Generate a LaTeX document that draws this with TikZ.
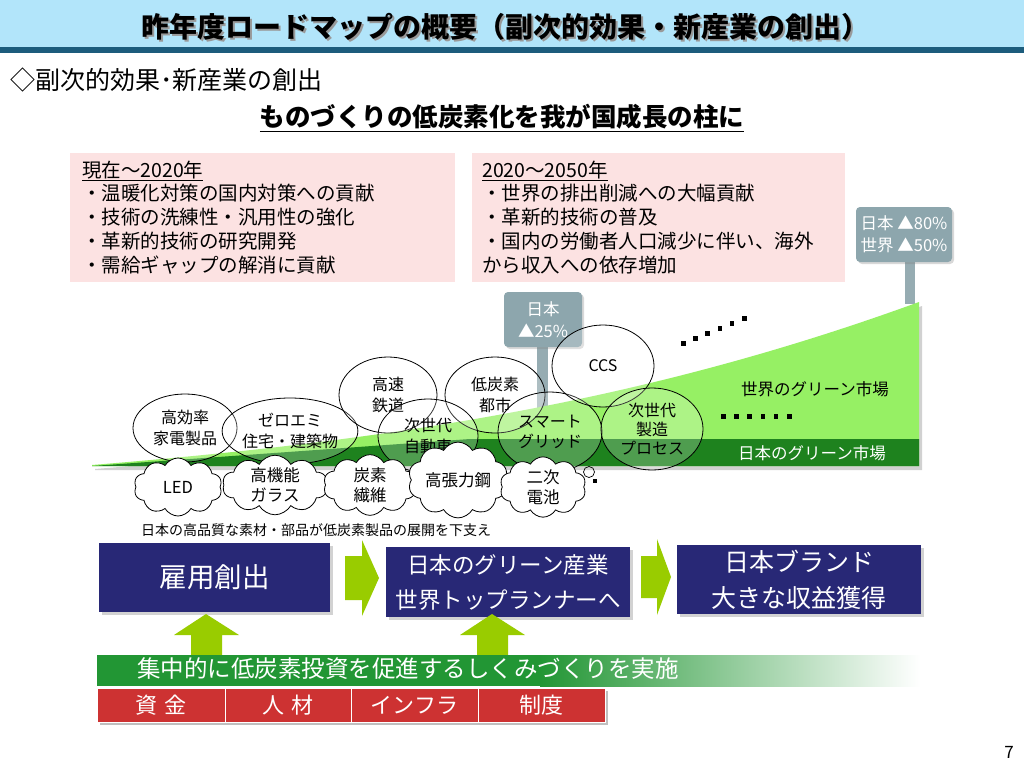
\documentclass[tikz,border=0pt]{standalone}
\usepackage{fontspec}
\setmainfont{Noto Sans CJK JP}
\usetikzlibrary{shapes.symbols,shapes.geometric,shadows}
\definecolor{titlebg}{RGB}{178,229,250}
\definecolor{titleline}{RGB}{28,92,124}
\definecolor{pinkbg}{RGB}{252,226,226}
\definecolor{signc}{RGB}{141,166,173}
\definecolor{postc}{RGB}{150,172,178}
\definecolor{lgreen}{RGB}{150,240,100}
\definecolor{dgreen}{RGB}{30,130,30}
\definecolor{navy}{RGB}{40,40,118}
\definecolor{lime}{RGB}{153,204,0}
\definecolor{bargreen}{RGB}{34,150,52}
\definecolor{redbar}{RGB}{205,50,50}
\newcommand{\fs}[2]{\fontsize{#1}{#2}\selectfont}
\begin{document}
\begin{tikzpicture}[x=1pt,y=-1pt,
  pl/.style={anchor=base west, inner sep=0pt, font=\fs{19.5}{24}},
  bub/.style={ellipse, draw=black, line width=0.8pt, fill=white, fill opacity=0.22, text opacity=1, align=center, inner sep=0pt, font=\fs{16}{20.5}},
  cld/.style={cloud, cloud puffs=10, cloud puff arc=120, aspect=1.5, draw=black, line width=0.8pt, fill=white, align=center, inner sep=0pt, font=\fs{16.5}{20}},
  sign/.style={rounded corners=4pt, fill=signc, text=white, align=center, inner sep=0pt, font=\fs{16.5}{22}, drop shadow={shadow xshift=2pt, shadow yshift=-2pt, opacity=0.3}},
  navybox/.style={fill=navy, text=white, align=center, inner sep=0pt, drop shadow={shadow xshift=3pt, shadow yshift=-3pt, opacity=0.35}},
  cell/.style={fill=redbar, draw=white, line width=0.8pt, text=white, inner sep=0pt, minimum height=34pt, font=\fs{22}{26}},
]
\useasboundingbox (0,0) rectangle (1024,768);
\fill[white] (0,0) rectangle (1024,768);
% title bar
\fill[titlebg] (0,0) rectangle (1024,47);
\fill[titleline] (0,47) rectangle (1024,53);
\node[font=\bfseries\fs{28}{32}, text=black!40] (titlesh) at (507,29) {昨年度ロードマップの概要（副次的効果・新産業の創出）};
\node[font=\bfseries\fs{28}{32}] (title) at (505,27) {昨年度ロードマップの概要（副次的効果・新産業の創出）};
\node[anchor=west, inner sep=0pt, font=\fs{25}{28}] (sub) at (10,80) {◇副次的効果･新産業の創出};
\node[font=\bfseries\fs{25.5}{28}, inner sep=0pt] (head) at (502,118) {\underline{ものづくりの低炭素化を我が国成長の柱に}};
% pink boxes
\fill[pinkbg] (70,153) rectangle (455,282);
\fill[pinkbg] (472,153) rectangle (845,282);
\node[pl] (p1h) at (82,177) {\underline{現在～2020年}};
\node[pl] (p1a) at (82,200) {・温暖化対策の国内対策への貢献};
\node[pl] (p1b) at (82,224) {・技術の洗練性・汎用性の強化};
\node[pl] (p1c) at (82,248) {・革新的技術の研究開発};
\node[pl] (p1d) at (82,272) {・需給ギャップの解消に貢献};
\node[pl] (p2h) at (482,177) {\underline{2020～2050年}};
\node[pl] (p2a) at (482,200) {・世界の排出削減への大幅貢献};
\node[pl] (p2b) at (482,224) {・革新的技術の普及};
\node[pl] (p2c) at (482,248) {・国内の労働者人口減少に伴い、海外};
\node[pl] (p2d) at (482,272) {から収入への依存増加};
% posts and signs
\fill[postc] (905,262) rectangle (915,304);
\fill[postc] (537,347) rectangle (548,440);
\node[sign, minimum width=96pt, minimum height=55pt] (s80) at (904,234.5) {日本 ▲80\%\\世界 ▲50\%};
\node[sign, minimum width=78pt, minimum height=55pt] (s25) at (543,319.5) {日本\\▲25\%};
% green market shape
\fill[black, opacity=0.18] (95,469) .. controls (403,444) and (653,404) .. (922,306) -- (922,470) -- (95,470) -- cycle;
\fill[lgreen] (92,465) .. controls (400,440) and (650,400) .. (919,302) -- (919,466) -- (92,466) -- cycle;
\fill[dgreen] (92,466) -- (470,439) -- (919,439) -- (919,466) -- cycle;
\node[font=\fs{16.5}{20}] (world) at (815,389) {世界のグリーン市場};
\node[font=\fs{16.5}{20}, text=white] (japan) at (812,453) {日本のグリーン市場};
\foreach \i in {0,...,5} \fill (681+12.2*\i,341-5*\i) rectangle +(4.5,4.5);
\foreach \i in {0,...,5} \fill (721+13.2*\i,414) rectangle +(4.5,4.5);
% ellipses
\node[bub, minimum width=104pt, minimum height=68pt] (e1) at (185,428) {高効率\\家電製品};
\node[bub, minimum width=98pt, minimum height=66pt] (e2) at (290,431) {ゼロエミ\\住宅・建築物};
\node[bub, minimum width=98pt, minimum height=76pt] (e3) at (388,395) {高速\\鉄道};
\node[bub, minimum width=100pt, minimum height=76pt] (e4) at (495,395) {低炭素\\都市};
\node[bub, minimum width=100pt, minimum height=74pt] (e5) at (428,436) {次世代\\自動車};
\node[bub, minimum width=104pt, minimum height=80pt] (e6) at (550,432) {スマート\\グリッド};
\node[bub, minimum width=102pt, minimum height=82pt] (e7) at (603,366) {CCS};
\node[bub, minimum width=102pt, minimum height=82pt, font=\fs{16}{19}] (e8) at (652,429) {次世代\\製造\\プロセス};
% clouds
\node[cld, minimum width=88pt, minimum height=58pt] (c1) at (178,487) {LED};
\node[cld, minimum width=105pt, minimum height=58pt] (c2) at (275,485) {高機能\\ガラス};
\node[cld, minimum width=93pt, minimum height=58pt] (c3) at (370,485) {炭素\\繊維};
\node[cld, minimum width=90pt, minimum height=56pt] (c4) at (458,480) {高張力鋼};
\node[cld, minimum width=86pt, minimum height=58pt] (c5) at (543,487) {二次\\電池};
\draw[line width=0.7pt] (589,472) circle (5.5);
\fill (593,479) rectangle +(4,4);
\node[font=\fs{14}{16}] (cap) at (316,530) {日本の高品質な素材・部品が低炭素製品の展開を下支え};
% bottom boxes
\node[navybox, minimum width=231pt, minimum height=69pt, font=\fs{27.5}{32}] (b1) at (214.5,577.5) {雇用創出};
\node[navybox, minimum width=244pt, minimum height=70pt, font=\fs{22.5}{35}] (b2) at (508,582) {日本のグリーン産業\\世界トップランナーへ};
\node[navybox, minimum width=244pt, minimum height=69pt, font=\fs{25}{36}] (b3) at (799,579.5) {日本ブランド\\大きな収益獲得};
\fill[lime] (345,556) -- (362,556) -- (362,540) -- (379,578) -- (362,616) -- (362,600) -- (345,600) -- cycle;
\fill[lime] (641,556) -- (657,556) -- (657,539) -- (671,577) -- (657,615) -- (657,598) -- (641,598) -- cycle;
\fill[lime] (206,614) -- (239,635) -- (222,635) -- (222,655) -- (191,655) -- (191,635) -- (174,635) -- cycle;
\fill[lime] (492,614) -- (525,635) -- (508,635) -- (508,655) -- (477,655) -- (477,635) -- (460,635) -- cycle;
% green bar
\fill[bargreen] (97,655) rectangle (541,686);
\shade[left color=bargreen, right color=white] (540,655) rectangle (920,686);
\node[font=\fs{23.5}{26}, text=white] (bar) at (408,669) {集中的に低炭素投資を促進するしくみづくりを実施};
% red cells
\fill[black, opacity=0.25] (100,691) rectangle (608,725);
\node[cell, minimum width=128pt] (r1) at (161,705) {資\hspace{0.35em}金};
\node[cell, minimum width=126pt] (r2) at (288,705) {人\hspace{0.35em}材};
\node[cell, minimum width=127pt] (r3) at (414.5,705) {インフラ};
\node[cell, minimum width=127pt] (r4) at (541.5,705) {制度};
\node[font=\fs{17}{20}] (pg) at (1009,752) {7};
\end{tikzpicture}
\end{document}
